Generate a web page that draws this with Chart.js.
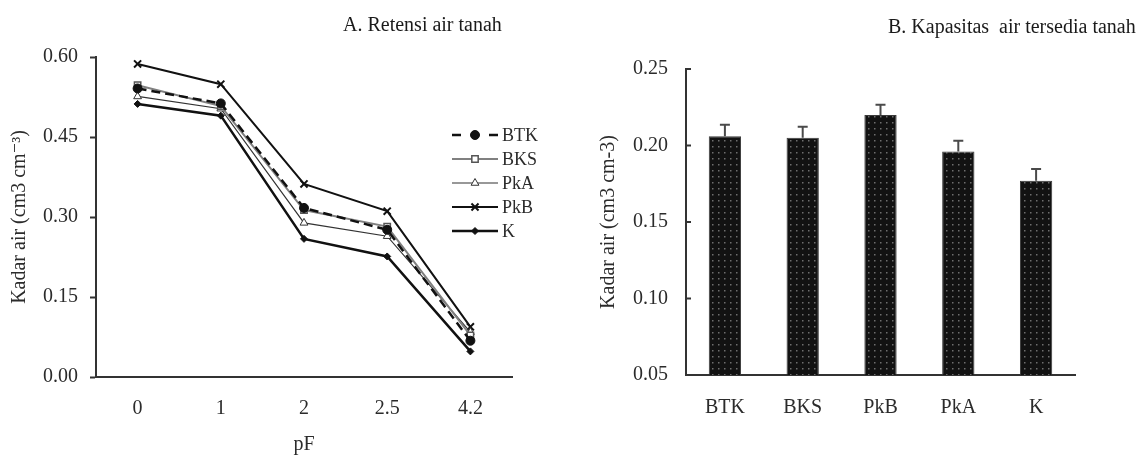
<!DOCTYPE html>
<html>
<head>
<meta charset="utf-8">
<script src="https://cdn.jsdelivr.net/npm/chart.js@4.4.1/dist/chart.umd.min.js"></script>
<style>
    html, body { margin: 0; padding: 0; background: #ffffff; }
    body { position: relative; width: 1143px; height: 455px; overflow: hidden; }
    canvas { position: absolute; top: 0; }
    #retention { left: 0; }
    #capacity { left: 560px; }
</style>
</head>
<body>
<canvas id="retention" width="560" height="455"></canvas>
<canvas id="capacity" width="583" height="455"></canvas>
<script>
// Panel A: soil water retention per pF level
const pfLevels = ['0', '1', '2', '2.5', '4.2'];
const btkRetention = [0.541, 0.513, 0.317, 0.276, 0.068];
const bksRetention = [0.547, 0.508, 0.313, 0.282, 0.078];
const pkaRetention = [0.526, 0.503, 0.289, 0.264, 0.084];
const pkbRetention = [0.587, 0.549, 0.362, 0.311, 0.094];
const kRetention = [0.512, 0.490, 0.259, 0.226, 0.048];
const retentionTicks = [0, 0.15, 0.30, 0.45, 0.60];

// Panel B: available water capacity per land use
const landUses = ['BTK', 'BKS', 'PkB', 'PkA', 'K'];
const availableWater = [0.206, 0.205, 0.220, 0.196, 0.177];
const availableWaterErr = [0.0076, 0.0072, 0.0066, 0.0071, 0.0076];
const capacityTicks = [0.05, 0.10, 0.15, 0.20, 0.25];

const SERIF = '"Liberation Serif", "DejaVu Serif", serif';
const TEXT = '#2b2b2b';

function axisFont(size) {
    return { family: SERIF, size: size || 20, lineHeight: 1.2 };
}

// titles written at fixed spots above each panel
const panelTitle = {
    id: 'panelTitle',
    afterDraw(chart, args, opts) {
        const ctx = chart.ctx;
        ctx.save();
        ctx.font = '20px ' + SERIF;
        ctx.fillStyle = '#1a1a1a';
        ctx.textAlign = 'left';
        ctx.textBaseline = 'middle';
        ctx.fillText(opts.text, opts.x, opts.y);
        ctx.restore();
    }
};

// legend with the line sample running through the marker, like the original
const lineLegend = {
    id: 'lineLegend',
    afterDraw(chart, args, opts) {
        const ctx = chart.ctx;
        ctx.save();
        chart.data.datasets.forEach((ds, i) => {
            const y = opts.y + i * opts.spacing;
            const x0 = opts.x;
            const x1 = opts.x + 46;
            const xm = (x0 + x1) / 2;
            ctx.strokeStyle = ds.borderColor;
            ctx.lineWidth = ds.borderWidth;
            ctx.setLineDash([]);
            ctx.beginPath();
            if (ds.borderDash && ds.borderDash.length) {
                ctx.moveTo(x0, y); ctx.lineTo(x0 + 9, y);
                ctx.moveTo(x1 - 9, y); ctx.lineTo(x1, y);
            } else {
                ctx.moveTo(x0, y); ctx.lineTo(x1, y);
            }
            ctx.stroke();
            ctx.fillStyle = ds.pointBackgroundColor;
            ctx.strokeStyle = ds.pointBorderColor;
            ctx.lineWidth = ds.pointBorderWidth;
            Chart.helpers.drawPoint(ctx, {
                pointStyle: ds.pointStyle,
                radius: ds.pointRadius,
                rotation: 0,
                borderWidth: ds.pointBorderWidth
            }, xm, y);
            ctx.font = '18px ' + SERIF;
            ctx.fillStyle = TEXT;
            ctx.textAlign = 'left';
            ctx.textBaseline = 'middle';
            ctx.fillText(ds.label, x1 + 4, y + 1);
        });
        ctx.restore();
    }
};

// short inward tick marks on the bar chart's value axis
const innerTicks = {
    id: 'innerTicks',
    afterDraw(chart) {
        const scale = chart.scales.y;
        const ctx = chart.ctx;
        ctx.save();
        ctx.strokeStyle = '#333';
        ctx.lineWidth = 2;
        scale.ticks.forEach((t, i) => {
            const y = scale.getPixelForTick(i);
            ctx.beginPath();
            ctx.moveTo(scale.right, y);
            ctx.lineTo(scale.right + 5, y);
            ctx.stroke();
        });
        ctx.restore();
    }
};

// upper error bars with a cap
const errorBars = {
    id: 'errorBars',
    afterDatasetsDraw(chart, args, opts) {
        const ctx = chart.ctx;
        const yScale = chart.scales.y;
        const meta = chart.getDatasetMeta(0);
        const values = chart.data.datasets[0].data;
        ctx.save();
        ctx.strokeStyle = '#4a4a4a';
        ctx.lineWidth = 2;
        meta.data.forEach((bar, i) => {
            const top = yScale.getPixelForValue(values[i] + opts.errors[i]);
            ctx.beginPath();
            ctx.moveTo(bar.x, bar.y);
            ctx.lineTo(bar.x, top);
            ctx.moveTo(bar.x - 5, top);
            ctx.lineTo(bar.x + 5, top);
            ctx.stroke();
        });
        ctx.restore();
    }
};

function dottedFill() {
    const c = document.createElement('canvas');
    c.width = 6;
    c.height = 6;
    const g = c.getContext('2d');
    g.fillStyle = '#121212';
    g.fillRect(0, 0, 6, 6);
    g.fillStyle = '#6e6e6e';
    g.fillRect(2, 2, 1.5, 1.5);
    return g.createPattern(c, 'repeat');
}

function series(label, data, style) {
    return Object.assign({
        label: label,
        data: data,
        borderColor: '#111',
        borderWidth: 2,
        pointBackgroundColor: '#111',
        pointBorderColor: '#111',
        pointBorderWidth: 1,
        pointRadius: 4,
        tension: 0,
        fill: false
    }, style);
}

new Chart(document.getElementById('retention'), {
    type: 'line',
    data: {
        labels: pfLevels,
        datasets: [
            series('BTK', btkRetention, { borderDash: [9, 5], borderWidth: 2.5, pointStyle: 'circle', pointRadius: 4.5 }),
            series('BKS', bksRetention, { borderColor: '#808080', pointStyle: 'rect', pointRadius: 4.5, pointBackgroundColor: '#fff', pointBorderColor: '#555', pointBorderWidth: 1.5 }),
            series('PkA', pkaRetention, { borderColor: '#333', borderWidth: 1.2, pointStyle: 'triangle', pointRadius: 4.5, pointBackgroundColor: '#fff', pointBorderColor: '#333' }),
            series('PkB', pkbRetention, { pointStyle: 'crossRot', pointRadius: 5, pointBorderWidth: 2 }),
            series('K', kRetention, { borderWidth: 2.5, pointStyle: 'rectRot', pointRadius: 3.5 })
        ]
    },
    options: {
        responsive: false,
        animation: false,
        devicePixelRatio: 1,
        layout: { padding: { top: 57, right: 48, bottom: 0, left: 0 } },
        plugins: {
            legend: { display: false },
            tooltip: { enabled: false },
            panelTitle: { text: 'A. Retensi air tanah', x: 343, y: 26 },
            lineLegend: { x: 452, y: 135, spacing: 24 }
        },
        scales: {
            x: {
                offset: true,
                grid: { drawOnChartArea: false, drawTicks: false },
                border: { color: '#333', width: 2 },
                ticks: { color: TEXT, font: axisFont(20), padding: 20 },
                title: { display: true, text: 'pF', color: TEXT, font: { family: SERIF, size: 20, lineHeight: 1 }, padding: 0 },
                afterFit: (scale) => { scale.height = 78; }
            },
            y: {
                min: 0,
                max: 0.6,
                afterBuildTicks: (scale) => { scale.ticks = retentionTicks.map(v => ({ value: v })); },
                grid: { drawOnChartArea: false, tickLength: 6, tickWidth: 2, tickColor: '#333' },
                border: { color: '#333', width: 2 },
                ticks: { color: TEXT, font: axisFont(20), padding: 12, callback: (v) => Number(v).toFixed(2) },
                title: { display: true, text: 'Kadar air (cm3 cm\u207B\u00B3)', color: TEXT, font: axisFont(20), padding: { top: 8 } },
                afterFit: (scale) => { scale.width = 96; }
            }
        }
    },
    plugins: [panelTitle, lineLegend]
});

new Chart(document.getElementById('capacity'), {
    type: 'bar',
    data: {
        labels: landUses,
        datasets: [{
            label: 'Kapasitas air tersedia',
            data: availableWater,
            backgroundColor: dottedFill(),
            borderColor: '#3a3a3a',
            borderWidth: 1,
            barPercentage: 0.415,
            categoryPercentage: 1
        }]
    },
    options: {
        responsive: false,
        animation: false,
        devicePixelRatio: 1,
        layout: { padding: { top: 69, right: 68, bottom: 0, left: 0 } },
        plugins: {
            legend: { display: false },
            tooltip: { enabled: false },
            panelTitle: { text: 'B. Kapasitas  air tersedia tanah', x: 328, y: 28 },
            errorBars: { errors: availableWaterErr }
        },
        scales: {
            x: {
                grid: { drawOnChartArea: false, drawTicks: false },
                border: { color: '#333', width: 2 },
                ticks: { color: TEXT, font: axisFont(20), padding: 21 },
                afterFit: (scale) => { scale.height = 80; }
            },
            y: {
                min: 0.05,
                max: 0.25,
                afterBuildTicks: (scale) => { scale.ticks = capacityTicks.map(v => ({ value: v })); },
                grid: { drawOnChartArea: false, drawTicks: false },
                border: { color: '#333', width: 2 },
                ticks: { color: TEXT, font: axisFont(20), padding: 18, callback: (v) => Number(v).toFixed(2) },
                title: { display: true, text: 'Kadar air (cm3 cm-3)', color: TEXT, font: axisFont(20), padding: { top: 37 } },
                afterFit: (scale) => { scale.width = 126; }
            }
        }
    },
    plugins: [panelTitle, innerTicks, errorBars]
});
</script>
</body>
</html>
